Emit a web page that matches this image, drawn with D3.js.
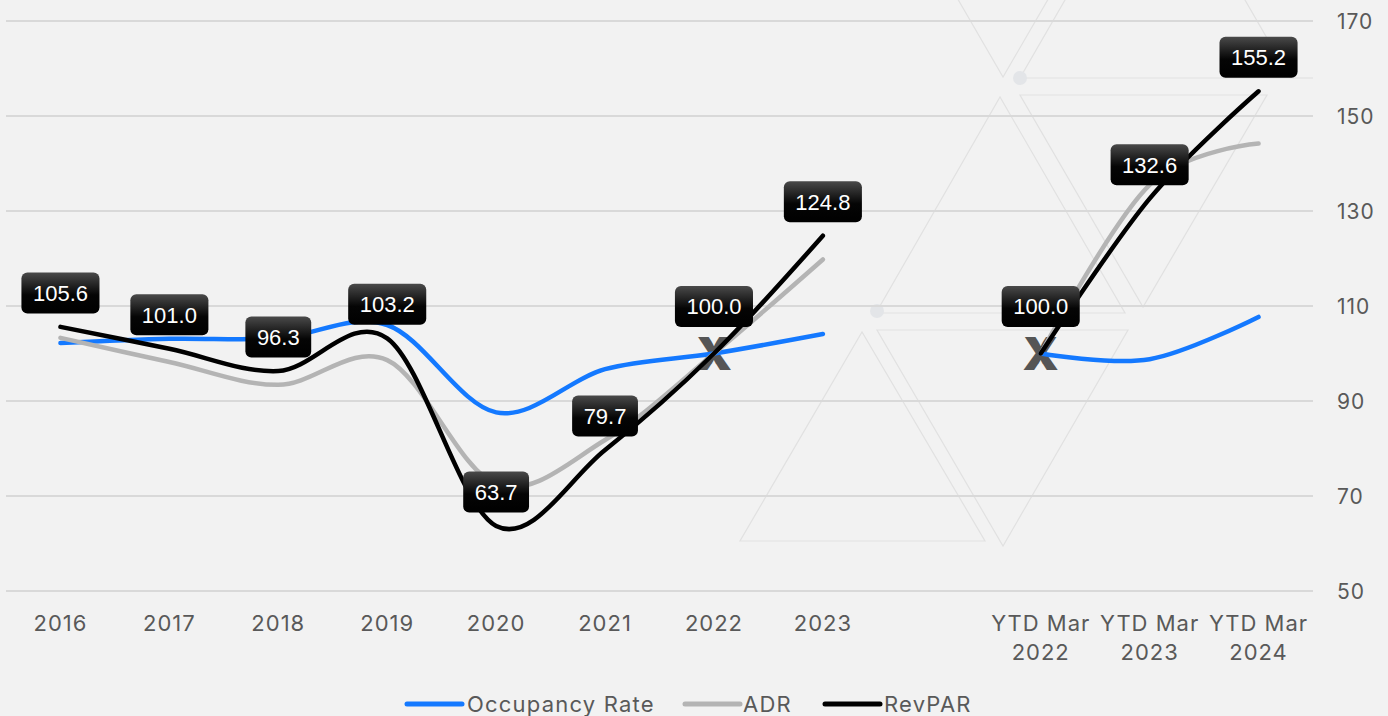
<!DOCTYPE html>
<html><head><meta charset="utf-8">
<script src="https://cdn.jsdelivr.net/npm/d3@7"></script>
<style>
html,body{margin:0;padding:0;background:#f2f2f2;}
svg{display:block;}
</style></head>
<body><svg id="c" width="1388" height="716"></svg>
<script>
const categories = ["2016","2017","2018","2019","2020","2021","2022","2023","","YTD Mar 2022","YTD Mar 2023","YTD Mar 2024"];
const occupancy = [102.2,103.1,103.2,106.0,87.6,96.7,100.0,104.1,null,100.0,98.8,107.7];
const adr       = [103.3,98.2,93.4,98.6,72.5,81.8,100.0,119.8,null,100.0,135.5,144.2];
const revpar    = [105.6,101.0,96.3,103.2,63.7,79.7,100.0,124.8,null,100.0,132.6,155.2];
const yTicks = [50,70,90,110,130,150,170];
const markerIdx = [6,9];
const seriesNames = ["Occupancy Rate","ADR","RevPAR"];
const seriesColors = ["#1479ff","#b4b4b4","#000000"];

const svg = d3.select("#c");
const W = 1388, H = 716;
svg.append("rect").attr("width",W).attr("height",H).attr("fill","#f2f2f2");

// watermark decoration
const wm = svg.append("g").attr("fill","none").attr("stroke","#e1e1e1").attr("stroke-width",1.2);
const tris = [
  [[916,-73],[1090,-73],[1003,77]],
  [[1020,78],[1290,78],[1155,-156]],
  [[1020,95],[1267,95],[1143,307]],
  [[876,313],[1125,313],[1000,97]],
  [[877,330],[1128,330],[1003,546]],
  [[740,541],[985,541],[862,332]]
];
tris.forEach(t=>wm.append("path").attr("d","M"+t.map(p=>p.join(",")).join("L")+"Z"));
wm.append("line").attr("x1",1290).attr("x2",1313).attr("y1",78).attr("y2",78);
svg.append("circle").attr("cx",1020).attr("cy",78).attr("r",7).attr("fill","#e3e5e8");
svg.append("circle").attr("cx",877).attr("cy",311).attr("r",7).attr("fill","#e3e5e8");

const x = d3.scaleBand().domain(categories.map((c,i)=>i)).range([6,1313]);
const y = d3.scaleLinear().domain([50,170]).range([591,21]);
const cx = i => x(i) + x.bandwidth()/2;

// gridlines
svg.append("g").selectAll("line").data(yTicks).join("line")
  .attr("x1",6).attr("x2",1313).attr("y1",d=>y(d)).attr("y2",d=>y(d))
  .attr("stroke","#d9d9d9").attr("stroke-width",2);

// right axis
const yAxis = d3.axisRight(y).tickValues(yTicks).tickSize(0).tickPadding(0);
const ya = svg.append("g").attr("transform","translate(1337,0)").call(yAxis);
ya.select(".domain").remove();
ya.selectAll("text").attr("font-family","Inter").attr("font-size",21).attr("fill","#595959")
  .attr("letter-spacing","1px").attr("dy","0.35em");

// bottom axis labels
const xl = svg.append("g");
categories.forEach((c,i)=>{
  if(!c) return;
  const t = xl.append("text").attr("x",cx(i)).attr("text-anchor","middle")
    .attr("font-family","Inter").attr("font-size",22).attr("fill","#595959").attr("letter-spacing","1px");
  if(c.startsWith("YTD")){
    const parts = c.split(" ");
    t.append("tspan").attr("x",cx(i)).attr("y",631).text(parts[0]+" "+parts[1]);
    t.append("tspan").attr("x",cx(i)).attr("y",660).text(parts[2]);
  } else {
    t.attr("y",631).text(c);
  }
});

// X markers
markerIdx.forEach(i=>{
  svg.append("text").attr("x",cx(i)).attr("y",y(revpar[i])).attr("dy","0.36em")
    .attr("text-anchor","middle").attr("font-family","Inter").attr("font-weight","900")
    .attr("font-size",46).attr("fill","#555555").text("X");
});

// lines
const line = d3.line().defined(d=>d.v!=null).x(d=>cx(d.i)).y(d=>y(d.v)).curve(d3.curveCardinal.tension(0));
[occupancy,adr,revpar].forEach((s,k)=>{
  svg.append("path").datum(s.map((v,i)=>({i,v})))
    .attr("d",line).attr("fill","none").attr("stroke",seriesColors[k])
    .attr("stroke-width",4.5).attr("stroke-linecap","round").attr("stroke-linejoin","round");
});

// data labels
const defs = svg.append("defs");
const g = defs.append("linearGradient").attr("id","lbl").attr("x1",0).attr("y1",0).attr("x2",0).attr("y2",1);
g.append("stop").attr("offset","0%").attr("stop-color","#4a4a4a");
g.append("stop").attr("offset","55%").attr("stop-color","#050505");
g.append("stop").attr("offset","100%").attr("stop-color","#000000");
const lg = svg.append("g");
revpar.forEach((v,i)=>{
  if(v==null) return;
  const off = markerIdx.includes(i) ? 47 : 34;
  const px = cx(i), py = y(v) - off;
  const t = lg.append("text").attr("x",px).attr("y",py).attr("dy","0.36em").attr("text-anchor","middle")
    .attr("font-family","Liberation Sans").attr("font-size",22).attr("fill","#ffffff").text(v.toFixed(1));
  const w = t.node().getComputedTextLength() + 23;
  lg.insert("rect","text").attr("x",px-w/2).attr("y",py-20.5).attr("width",w).attr("height",41)
    .attr("rx",6).attr("fill","url(#lbl)");
});
lg.selectAll("text").raise();

// legend
const leg = svg.append("g");
const legItems = [{x:407,tx:467},{x:685,tx:743},{x:825,tx:884}];
seriesNames.forEach((n,k)=>{
  const it = legItems[k];
  leg.append("line").attr("x1",it.x).attr("x2",it.x+55).attr("y1",704).attr("y2",704)
    .attr("stroke",seriesColors[k]).attr("stroke-width",5).attr("stroke-linecap","round");
  leg.append("text").attr("x",it.tx).attr("y",704).attr("dy","0.36em")
    .attr("font-family","Inter").attr("font-size",22).attr("fill","#595959").attr("letter-spacing","1.2px").text(n);
});
</script></body></html>
